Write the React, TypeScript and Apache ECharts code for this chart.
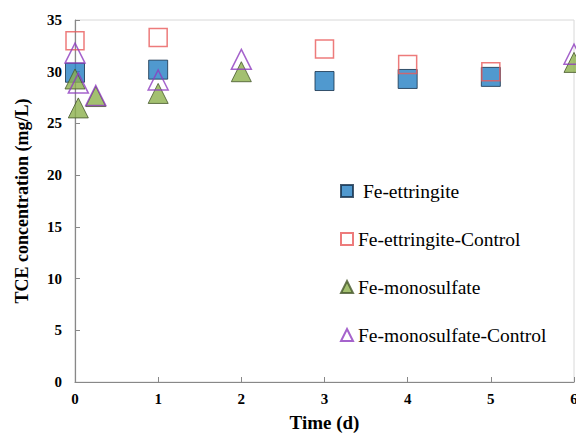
import React, { useEffect, useRef } from "react";
import * as echarts from "echarts";

const feEttTime = [0, 1, 3, 4, 5];
const feEtt = [29.9, 30.2, 29.1, 29.3, 29.5];
const feEttCtrlTime = [0, 1, 3, 4, 5];
const feEttCtrl = [33.0, 33.3, 32.2, 30.7, 30.0];
const feMonoTime = [0, 0.04, 0.25, 1, 2, 6];
const feMono = [29.3, 26.5, 27.6, 27.9, 30.0, 30.9];
const feMonoCtrlTime = [0, 0.04, 0.25, 1, 2, 6];
const feMonoCtrl = [31.8, 28.9, 27.7, 29.2, 31.2, 31.7];
const legendNames = [
  "Fe-ettringite",
  "Fe-ettringite-Control",
  "Fe-monosulfate",
  "Fe-monosulfate-Control",
];

const pair = (xs: number[], ys: number[]) => xs.map((x, i) => [x, ys[i]]);
const FONT = "Liberation Serif, Times New Roman, serif";

export default function App() {
  const ref = useRef<HTMLDivElement>(null);
  useEffect(() => {
    document.body.style.margin = "0";
    const chart = echarts.init(ref.current!, null, { renderer: "svg" });
    chart.setOption({
      animation: false,
      backgroundColor: "#fff",
      textStyle: { fontFamily: FONT },
      grid: {
        left: 75,
        right: 2,
        top: 20,
        bottom: 52,
        show: true,
        borderColor: "#d8d8d8",
        borderWidth: 1,
        outerBoundsMode: "none",
        containLabel: false,
      },
      legend: {
        orient: "vertical",
        left: 335,
        top: 176,
        itemWidth: 12,
        itemHeight: 12,
        itemGap: 28,
        formatter: (name: string) => (name === legendNames[0] ? " " + name : name),
        textStyle: { fontFamily: FONT, fontSize: 19.5, color: "#000" },
        data: legendNames,
      },
      xAxis: {
        type: "value",
        min: 0,
        max: 6,
        interval: 1,
        name: "Time (d)",
        nameLocation: "middle",
        nameGap: 31,
        nameTextStyle: { fontFamily: FONT, fontSize: 19, fontWeight: "bold", color: "#000" },
        axisLine: { show: true, lineStyle: { color: "#888", width: 1.2 } },
        axisTick: { show: true, inside: true, length: 5, lineStyle: { color: "#888" } },
        axisLabel: { fontFamily: FONT, fontSize: 15, fontWeight: "bold", color: "#000", margin: 9 },
        splitLine: { show: false },
      },
      yAxis: {
        type: "value",
        min: 0,
        max: 35,
        interval: 5,
        name: "TCE concentration (mg/L)",
        nameLocation: "middle",
        nameGap: 44,
        nameTextStyle: { fontFamily: FONT, fontSize: 18, fontWeight: "bold", color: "#000" },
        axisLine: { show: true, lineStyle: { color: "#888", width: 1.2 } },
        axisTick: { show: true, inside: true, length: 5, lineStyle: { color: "#888" } },
        axisLabel: { fontFamily: FONT, fontSize: 15, fontWeight: "bold", color: "#000", margin: 13 },
        splitLine: { show: false },
      },
      series: [
        {
          name: legendNames[0],
          type: "scatter",
          symbol: "rect",
          symbolSize: 19,
          data: pair(feEttTime, feEtt),
          itemStyle: { color: "#2480c3", borderColor: "#15304a", borderWidth: 1 },
        },
        {
          name: legendNames[1],
          type: "scatter",
          symbol: "rect",
          symbolSize: 18,
          data: pair(feEttCtrlTime, feEttCtrl),
          itemStyle: { color: "rgba(255,255,255,0)", borderColor: "#e85a5a", borderWidth: 1.5 },
        },
        {
          name: legendNames[2],
          type: "scatter",
          symbol: "triangle",
          symbolSize: 20,
          data: pair(feMonoTime, feMono),
          itemStyle: { color: "#8cb04c", borderColor: "#45562a", borderWidth: 1 },
        },
        {
          name: legendNames[3],
          type: "scatter",
          symbol: "triangle",
          symbolSize: 20,
          data: pair(feMonoCtrlTime, feMonoCtrl),
          itemStyle: { color: "rgba(255,255,255,0)", borderColor: "#8e3cbf", borderWidth: 1.5 },
        },
      ],
    });
    return () => chart.dispose();
  }, []);
  return <div ref={ref} style={{ width: 576, height: 434 }} />;
}
